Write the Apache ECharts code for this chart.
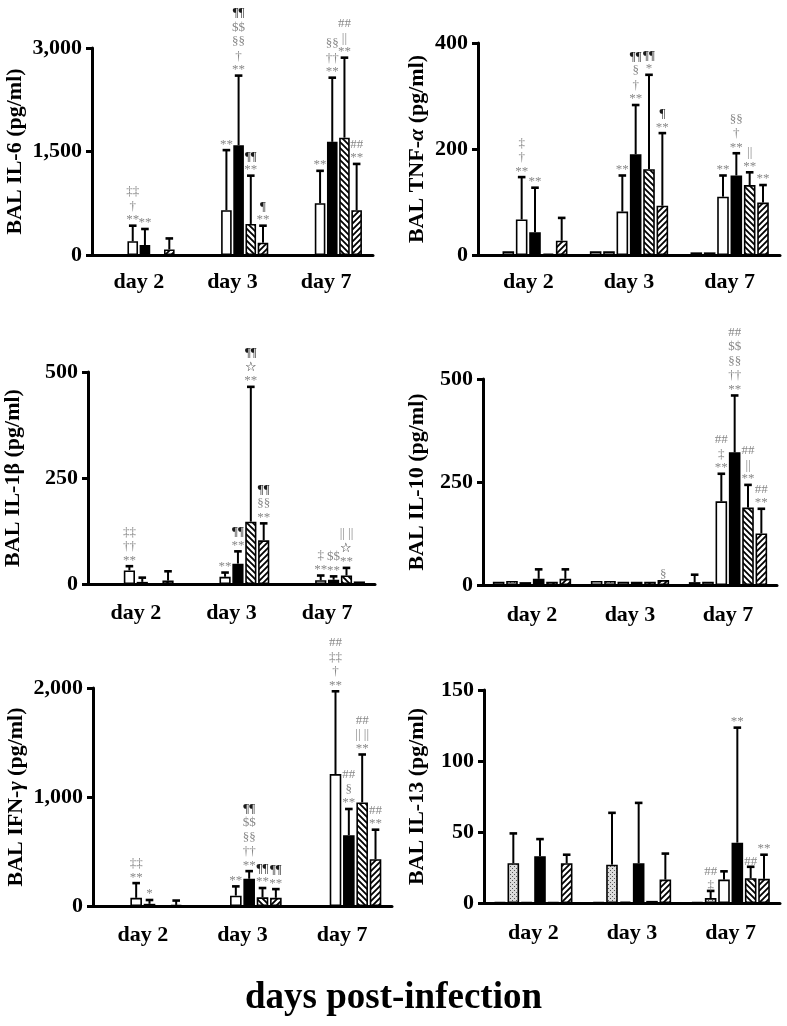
<!DOCTYPE html>
<html><head><meta charset="utf-8">
<script src="https://cdn.jsdelivr.net/npm/echarts@6/dist/echarts.min.js"></script>
<style>html,body{margin:0;padding:0;background:#fff}#c{width:787px;height:1026px}</style>
</head><body><div id="c"></div>
<script>
// ---------------- DATA ----------------
const DAYS = ['day 2', 'day 3', 'day 7'];
// six bar groups per day: [open-1, dotted, white, black, back-hatch, forward-hatch]

const IL6_MEAN = [[0,0,200,145,0,80],[0,0,650,1590,450,178],[0,0,750,1640,1700,650]];
const IL6_ERR  = [[0,0,225,232,0,160],[0,0,870,1010,700,247],[0,0,470,930,1160,670]];
const IL6_SIG  = [
  [[],[],['**','†','‡‡'],['**'],[],[]],
  [[],[],['**'],['**','†','§§','$$','¶¶'],['**','¶¶'],['**','¶']],
  [[],[],['**'],['**','††','§§'],['**','||','##'],['**','##']]
];

const TNF_MEAN = [[1,7,67,43,3,27],[7,7,82,190,162,93],[5,5,110,150,132,99]];
const TNF_ERR  = [[0,0,80,84,0,43],[0,0,68,93,178,137],[0,0,40,42,24,33]];
const TNF_SIG  = [
  [[],[],['**','†','‡'],['**'],[],[]],
  [[],[],['**'],['**','†','§','¶¶'],['*','¶¶'],['**','¶']],
  [[],[],['**'],['**','†','§§'],['**','||'],['**']]
];

const IL1B_MEAN = [[0,0,32,5,0,8],[0,0,17,48,147,103],[0,0,9,10,20,6]];
const IL1B_ERR  = [[0,0,10,10,0,22],[0,0,10,29,318,40],[0,0,11,8,18,0]];
const IL1B_SIG  = [
  [[],[],['**','††','‡‡'],[],[],[]],
  [[],[],['**'],['**','¶¶'],['**','☆','¶¶'],['**','§§','¶¶']],
  [[],[],['**','‡'],['**','$$'],['**','☆','|| ||'],[]]
];

const IL10_MEAN = [[8,10,7,15,8,15],[10,10,8,8,8,12],[7,8,203,322,188,125]];
const IL10_ERR  = [[0,0,0,23,0,23],[0,0,0,0,0,0],[18,0,67,138,55,60]];
const IL10_SIG  = [
  [[],[],[],[],[],[]],
  [[],[],[],[],[],['§']],
  [[],[],['**','‡','##'],['**','††','§§','$$','##'],['**','||','##'],['**','##']]
];

const IFN_MEAN = [[0,0,75,20,0,10],[0,0,95,250,80,75],[0,0,1210,650,950,430]];
const IFN_ERR  = [[0,0,135,35,0,40],[0,0,85,70,85,80],[0,0,760,240,440,270]];
const IFN_SIG  = [
  [[],[],['**','‡‡'],['*'],[],[]],
  [[],[],['**'],['**','††','§§','$$','¶¶'],['**','¶¶'],['**','¶¶']],
  [[],[],['**','†','‡‡','##'],['**','§','##'],['**','|| ||','##'],['**','##']]
];

const IL13_MEAN = [[0.5,28,0.5,33,0.5,28],[0.5,27,1,28,1.5,16.5],[0.5,3.5,16.5,42.5,17.5,17]];
const IL13_ERR  = [[0,21,0,12,0,6],[0,36.5,0,42.5,0,18.3],[0,5,5.8,81,8,17]];
const IL13_SIG  = [
  [[],[],[],[],[],[]],
  [[],[],[],[],[],[]],
  [[],['‡','##'],[],['**'],['##'],['**']]
];

const Y_MAX      = [3000, 400, 500, 500, 2000, 150];
const Y_INTERVAL = [1500, 200, 250, 250, 1000, 50];
const Y_NAMES = ['BAL IL-6 (pg/ml)', 'BAL TNF-{i|α} (pg/ml)', 'BAL IL-1β (pg/ml)',
                 'BAL IL-10 (pg/ml)', 'BAL IFN-{i|γ} (pg/ml)', 'BAL IL-13 (pg/ml)'];
const X_TITLE = 'days post-infection';

// ---------------- LAYOUT ----------------
const MEANS = [IL6_MEAN, TNF_MEAN, IL1B_MEAN, IL10_MEAN, IFN_MEAN, IL13_MEAN];
const ERRS  = [IL6_ERR, TNF_ERR, IL1B_ERR, IL10_ERR, IFN_ERR, IL13_ERR];
const SIGS  = [IL6_SIG, TNF_SIG, IL1B_SIG, IL10_SIG, IFN_SIG, IL13_SIG];
const LAYOUT = [
  {left: 92,  top: 48,  w: 281, h: 207, gap: 66, lm: 16, bw: 10.6},
  {left: 478, top: 43,  w: 302, h: 212, gap: 50, lm: 16, bw: 11.6},
  {left: 88,  top: 372, w: 287, h: 212, gap: 64, lm: 18, bw: 11.2},
  {left: 483, top: 379, w: 294, h: 206, gap: 55, lm: 19, bw: 11.6},
  {left: 93,  top: 688, w: 299, h: 218, gap: 66, lm: 18, bw: 11.6},
  {left: 484, top: 690, w: 296, h: 213, gap: 56, lm: 19, bw: 11.6}
];
const BAR_GAP = 0.15;
const FONT = '"Liberation Serif", "Times New Roman", serif';

function makeCanvas(size, draw) {
  const c = document.createElement('canvas');
  c.width = size; c.height = size;
  draw(c.getContext('2d'), size);
  return c;
}
const dotted = makeCanvas(4, (g, s) => {
  g.fillStyle = '#dcdcdc'; g.fillRect(0, 0, s, s);
  g.fillStyle = '#555'; g.fillRect(0, 0, 1, 1); g.fillRect(2, 2, 1, 1);
});
function hatch(dir) {
  return makeCanvas(6, (g, s) => {
    g.fillStyle = '#fff'; g.fillRect(0, 0, s, s);
    g.strokeStyle = '#000'; g.lineWidth = 1.8; g.beginPath();
    if (dir > 0) { // forward "/"
      g.moveTo(-1, s + 1); g.lineTo(s + 1, -1);
      g.moveTo(-1, 1); g.lineTo(1, -1);
      g.moveTo(s - 1, s + 1); g.lineTo(s + 1, s - 1);
    } else {       // back "\"
      g.moveTo(-1, -1); g.lineTo(s + 1, s + 1);
      g.moveTo(s - 1, -1); g.lineTo(s + 1, 1);
      g.moveTo(-1, s - 1); g.lineTo(1, s + 1);
    }
    g.stroke();
  });
}
const FILLS = ['#fff', {image: dotted, repeat: 'repeat'}, '#fff', '#000',
               {image: hatch(-1), repeat: 'repeat'}, {image: hatch(1), repeat: 'repeat'}];

function sigColor(t) { return (t.indexOf('¶') >= 0 || t.indexOf('☆') >= 0) ? '#1a1a1a' : '#888'; }

function fmt(v) { return String(v).replace(/\B(?=(\d{3})+(?!\d))/g, ','); }

const grid = [], xAxis = [], yAxis = [], series = [];
LAYOUT.forEach((L, p) => {
  grid.push({left: L.left, top: L.top, width: L.w, height: L.h, containLabel: false, outerBoundsMode: 'none'});
  xAxis.push({
    gridIndex: p, type: 'category', data: DAYS,
    axisLine: {lineStyle: {color: '#000', width: 3}},
    axisTick: {show: false},
    axisLabel: {margin: L.lm, color: '#000', fontFamily: FONT, fontWeight: 'bold', fontSize: 22}
  });
  yAxis.push({
    gridIndex: p, type: 'value', min: 0, max: Y_MAX[p], interval: Y_INTERVAL[p],
    name: Y_NAMES[p], nameLocation: 'middle', nameGap: L.gap, nameRotate: 90,
    nameTextStyle: {color: '#000', fontFamily: FONT, fontWeight: 'bold', fontSize: 22,
      rich: {i: {fontStyle: 'italic', fontFamily: FONT, fontWeight: 'bold', fontSize: 22, color: '#000'}}},
    axisLine: {show: true, lineStyle: {color: '#000', width: 3}},
    axisTick: {show: true, length: 6, lineStyle: {color: '#000', width: 3}},
    splitLine: {show: false},
    axisLabel: {margin: 10, color: '#000', fontFamily: FONT, fontWeight: 'bold', fontSize: 22, formatter: fmt}
  });
  const M = MEANS[p], E = ERRS[p], S = SIGS[p];
  for (let s = 0; s < 6; s++) {
    series.push({
      type: 'bar', xAxisIndex: p, yAxisIndex: p, silent: true,
      barWidth: L.bw, barGap: (BAR_GAP * 100) + '%',
      data: M.map(d => d[s]),
      itemStyle: {color: FILLS[s], borderColor: '#000', borderWidth: 1.6}
    });
  }
  const cdata = [];
  M.forEach((row, d) => row.forEach((v, s) => {
    if (E[d][s] > 0 || S[d][s].length) cdata.push([d, v, E[d][s], s]);
  }));
  const bw = L.bw;
  series.push({
    type: 'custom', xAxisIndex: p, yAxisIndex: p, silent: true, clip: false, z: 5,
    encode: {x: 0, y: 1},
    data: cdata,
    renderItem: function (params, api) {
      const d = api.value(0), v = api.value(1), e = api.value(2), s = api.value(3);
      const cx = api.coord([d, 0])[0] + bw * (1 + BAR_GAP) * (s - 2.5);
      const yb = api.coord([d, v])[1];
      const yt = api.coord([d, v + e])[1];
      const ch = [];
      if (e > 0) {
        ch.push({type: 'line', shape: {x1: cx, y1: yb, x2: cx, y2: yt}, style: {stroke: '#000', lineWidth: 2}});
        ch.push({type: 'line', shape: {x1: cx - 3.8, y1: yt, x2: cx + 3.8, y2: yt}, style: {stroke: '#000', lineWidth: 2.6}});
      }
      let y = (e > 0 ? yt : yb) - 3;
      S[d][s].forEach((t, k) => {
        const isAst = t.indexOf('*') >= 0;
        ch.push({type: 'text', style: {
          text: t, x: cx, y: y + (isAst ? -3 : -2), align: 'center', verticalAlign: 'middle',
          textAlign: 'center', textVerticalAlign: 'middle',
          font: '13px ' + FONT, fill: sigColor(t)}});
        y -= 14.5;
      });
      return {type: 'group', children: ch};
    }
  });
});

const chart = echarts.init(document.getElementById('c'), null, {renderer: 'canvas'});
chart.setOption({
  animation: false,
  backgroundColor: '#fff',
  grid, xAxis, yAxis, series,
  graphic: [{type: 'text', left: 'center', top: 980,
    style: {text: X_TITLE, font: 'bold 37px ' + FONT, fill: '#000'}}]
});
</script></body></html>
